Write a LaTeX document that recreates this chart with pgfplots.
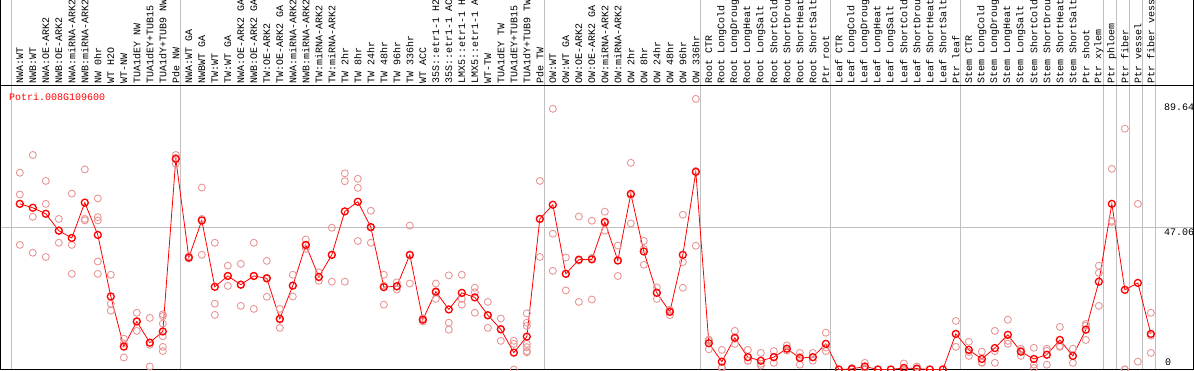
\documentclass[border=0pt]{standalone}
\usepackage{pgfplots}
\usepackage{pgfplotstable}
\pgfplotsset{compat=1.18}
\usepackage{fontspec}
\setmonofont{Liberation Mono}
\definecolor{rep}{RGB}{232,150,150}
\definecolor{gridg}{RGB}{192,192,192}
\definecolor{meanred}{RGB}{255,0,0}

\pgfplotstableread{
x y
1 54.9
2 53.6
3 51.6
4 46.0
5 43.6
6 55.3
7 44.6
8 24.2
9 7.6
10 15.9
11 8.9
12 12.6
13 69.8
14 37.1
15 49.4
16 27.4
17 31.0
18 28.1
19 31.0
20 30.2
21 16.8
22 27.8
23 41.3
24 30.7
25 38.0
26 52.4
27 55.6
28 47.2
29 27.3
30 27.6
31 38.0
32 16.5
33 25.8
34 19.9
35 25.4
36 23.9
37 18.0
38 13.3
39 5.6
40 10.9
41 49.9
42 54.6
43 31.7
44 36.4
45 36.5
46 48.9
47 36.1
48 58.2
49 39.1
50 25.4
51 19.1
52 38.0
53 65.5
54 8.7
55 2.6
56 10.5
57 4.1
58 2.9
59 4.1
60 6.9
61 3.8
62 4.1
63 8.5
64 0.0
65 0.2
66 1.0
67 0.0
68 0.0
69 0.5
70 0.3
71 0.0
72 0.0
73 11.8
74 6.5
75 3.5
76 7.1
77 11.5
78 5.9
79 3.5
80 4.9
81 9.8
82 4.5
83 13.2
84 29.1
85 54.9
86 26.4
87 28.7
88 11.8
}\meantable

\pgfplotstableread{
x y
1 65.2
1 58.0
1 41.3
2 71.1
2 50.6
2 38.7
3 62.5
3 54.9
3 37.3
4 49.9
4 42.0
4 46.1
5 58.3
5 41.3
5 31.7
6 66.3
6 49.9
6 49.4
7 56.7
7 50.5
7 49.4
7 35.8
7 31.7
8 31.4
8 21.8
8 19.5
9 10.2
9 4.0
9 8.6
10 18.8
10 12.8
10 16.1
11 17.1
11 8.2
11 1.0
12 18.3
12 17.7
12 15.2
12 7.5
12 6.1
12 11.0
13 71.1
13 68.2
13 70.1
14 37.5
14 36.8
14 37.0
15 60.3
15 38.0
15 49.9
16 42.0
16 21.8
16 18.1
17 34.4
17 27.7
17 31.0
18 35.0
18 21.1
18 28.2
19 42.0
19 20.1
19 31.0
20 36.0
20 24.1
20 30.4
21 20.1
21 13.8
21 16.5
22 31.4
22 24.2
22 27.8
23 43.1
23 40.0
23 41.0
24 32.2
24 29.4
24 30.5
25 47.0
25 29.1
25 38.0
26 65.0
26 62.4
26 29.1
27 63.2
27 60.2
27 42.6
28 52.6
28 42.0
28 47.0
29 31.4
29 27.8
29 21.5
30 28.9
30 26.5
30 27.4
31 47.7
31 28.5
31 37.8
32 15.9
32 16.5
32 17.0
33 28.5
33 23.4
33 25.5
34 31.2
34 15.5
34 13.2
35 31.4
35 23.4
35 21.5
36 27.1
36 25.6
36 18.8
37 22.4
37 13.8
37 17.8
38 16.9
38 9.5
38 13.5
39 9.5
39 8.5
39 0.0
40 18.6
40 15.5
40 14.4
40 8.5
40 7.4
40 6.1
40 5.7
41 62.5
41 37.3
41 49.9
42 86.4
42 45.0
42 32.7
43 37.1
43 26.2
43 31.8
44 50.7
44 22.4
44 36.1
45 49.3
45 23.2
45 37.0
46 52.3
46 46.0
46 48.5
47 41.1
47 31.0
47 36.2
48 68.5
48 48.4
48 57.8
49 42.6
49 34.7
49 39.9
50 27.2
50 23.4
50 25.6
51 18.0
51 19.5
51 19.8
52 51.3
52 35.6
52 27.1
53 89.7
53 41.0
53 65.8
54 9.9
54 6.7
54 9.5
55 6.5
55 0.8
55 0.5
56 12.8
56 8.5
56 10.2
57 6.5
57 2.9
57 2.9
58 5.5
58 1.9
58 1.3
59 6.1
59 2.2
59 4.0
60 8.0
60 6.3
60 6.4
61 5.5
61 1.6
61 4.2
62 5.5
62 2.9
62 4.0
63 12.2
63 6.1
63 7.3
64 0.0
65 0.5
65 0.0
66 2.2
66 0.5
66 0.3
67 0.0
68 0.0
69 2.0
69 0.0
70 1.0
70 0.0
71 0.0
72 0.0
73 16.1
73 7.5
73 11.8
74 9.2
74 4.5
74 5.8
75 5.9
75 2.2
75 2.4
76 12.8
76 6.1
76 2.2
77 16.5
77 9.5
77 8.5
78 6.9
78 4.5
78 6.3
79 7.2
79 1.6
79 0.5
80 6.9
80 1.6
80 6.2
81 14.1
81 7.5
81 7.8
82 6.9
82 2.2
82 4.5
83 15.1
83 9.8
83 14.6
84 34.4
84 32.0
84 21.1
85 66.5
85 48.9
85 49.3
86 79.8
86 0.0
86 0.0
87 54.9
87 2.6
88 18.8
88 5.5
88 11.2
}\reptable

\begin{document}
\begin{tikzpicture}[x=1pt,y=1pt]
\useasboundingbox (0,0) rectangle (1194,370);
\foreach \k in {0,13,41,53,63,73,84,85,86,87,88}{
  \draw[gridg, line width=1pt] ({11.5+13*\k},0) -- ({11.5+13*\k},370);
}
\begin{axis}[
  at={(0.5pt,0.5pt)}, anchor=south west,
  scale only axis, width=1193pt, height=284pt,
  xmin=-0.4846, xmax=91.285, ymin=0, ymax=94.12,
  axis line style={black, line width=1pt},
  xtick={1,...,88},
  xticklabel pos=right,
  major tick length=0pt,
  xticklabels={NWA:WT,NWB:WT,NWA:OE-ARK2,NWB:OE-ARK2,NWA:miRNA-ARK2,NWB:miRNA-ARK2,NW 0hr,WT H2O,WT-NW,TUA1dEY NW,TUA1dEY+TUB15,TUA1dY+TUB9 NW,Pde NW,
    NWA:WT GA,NWBWT GA,TW:WT,TW:WT GA,NWA:OE-ARK2 GA,NWB:OE-ARK2 GA,TW:OE-ARK2,TW:OE-ARK2 GA,NWA:miRNA-ARK2,NWB:miRNA-ARK2,TW:miRNA-ARK2,TW:miRNA-ARK2,TW 2hr,TW 8hr,TW 24hr,TW 48hr,TW 96hr,TW 336hr,WT ACC,35S::etr1-1 H2,35S::etr1-1 AC,LMX5::etr1-1 H,LMX5::etr1-1 A,WT-TW,TUA1dEY TW,TUA1dEY+TUB15,TUA1dY+TUB9 TW,Pde TW,
    OW:WT,OW:WT GA,OW:OE-ARK2,OW:OE-ARK2 GA,OW:miRNA-ARK2,OW:miRNA-ARK2,OW 2hr,OW 8hr,OW 24hr,OW 48hr,OW 96hr,OW 336hr,
    Root CTR,Root LongCold,Root LongDroug,Root LongHeat,Root LongSalt,Root ShortCold,Root ShortDrou,Root ShortHeat,Root ShortSalt,Ptr root,
    Leaf CTR,Leaf LongCold,Leaf LongDroug,Leaf LongHeat,Leaf LongSalt,Leaf ShortCold,Leaf ShortDrou,Leaf ShortHeat,Leaf ShortSalt,Ptr leaf,
    Stem CTR,Stem LongCold,Stem LongDroug,Stem LongHeat,Stem LongSalt,Stem ShortCold,Stem ShortDrou,Stem ShortHeat,Stem ShortSalt,Ptr shoot,Ptr xylem,Ptr phloem,Ptr fiber,Ptr vessel,Ptr fiber vess},
  xticklabel style={rotate=90, anchor=west, inner xsep=2pt, inner ysep=0pt,
    font=\ttfamily\fontsize{10}{10}\selectfont},
  ytick={47.06}, yticklabels={},
  ymajorgrids, major grid style={gridg, line width=1pt},
]
\addplot[only marks, mark=o, mark size=3.5pt, mark options={rep, line width=0.9pt}] table[x=x,y=y] {\reptable};
\addplot[meanred, line width=0.8pt, mark=o, mark size=3.5pt, mark options={meanred, line width=1.3pt}] table[x=x,y=y] {\meantable};
\end{axis}
\draw[black, line width=1pt] (0.5,0.5) -- (0.5,370);
\draw[black, line width=1pt] (1193.5,0.5) -- (1193.5,370);
\node[anchor=west, inner sep=0pt, text=meanred, font=\ttfamily\fontsize{10}{10}\selectfont] at (9,273) {Potri.008G109600};
\node[anchor=west, inner sep=0pt, font=\ttfamily\fontsize{10}{10}\selectfont] at (1164,263) {89.64};
\node[anchor=west, inner sep=0pt, font=\ttfamily\fontsize{10}{10}\selectfont] at (1164,138) {47.06};
\node[anchor=west, inner sep=0pt, font=\ttfamily\fontsize{10}{10}\selectfont] at (1165,8) {0};
\end{tikzpicture}
\end{document}
